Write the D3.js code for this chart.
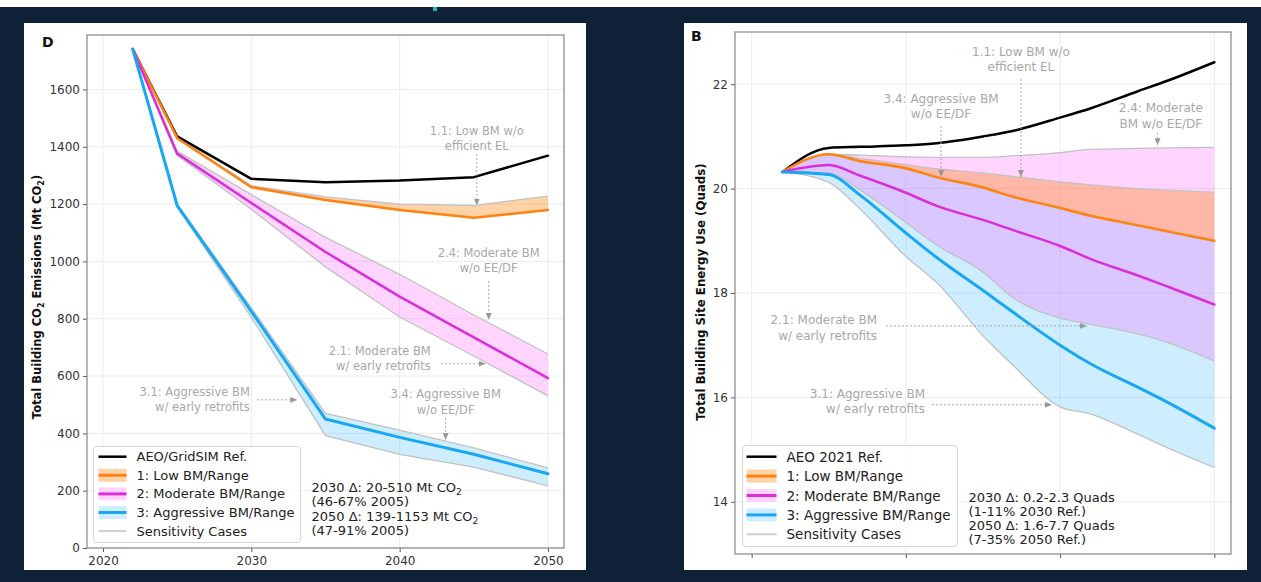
<!DOCTYPE html>
<html>
<head>
<meta charset="utf-8">
<script src="https://cdn.jsdelivr.net/npm/d3@7"></script>
<style>
  html, body { margin: 0; padding: 0; background: #0f2137; }
  svg { display: block; font-family: "DejaVu Sans", sans-serif; }
</style>
</head>
<body>
<svg id="chart" width="1261" height="582"></svg>
<script>
// ---------- data ----------
const xTicks = [2020, 2030, 2040, 2050];

// Panel D: total building CO2 emissions (Mt CO2)
const yearsD  = [2022, 2025, 2030, 2035, 2040, 2045, 2050];
const refD    = [1741, 1436, 1288, 1276, 1282, 1294, 1369];
const lowD    = [1741, 1430, 1259, 1214, 1179, 1152, 1179];
const lowHiD  = [1741, 1433, 1264, 1225, 1200, 1195, 1228];
const modD    = [1741, 1376, 1204, 1033,  877,  735,  593];
const modHiD  = [1741, 1385, 1233, 1084,  955,  813,  677];
const modLoD  = [1741, 1370, 1182,  981,  806,  670,  531];
const aggD    = [1741, 1195,  826,  450,  386,  327,  259];
const aggHiD  = [1741, 1200,  838,  470,  411,  349,  280];
const aggLoD  = [1741, 1190,  805,  392,  327,  282,  217];
const yTicksD = [0, 200, 400, 600, 800, 1000, 1200, 1400, 1600];

// Panel B: total building site energy use (quads)
const yearsB  = [2022, 2025, 2027, 2030, 2032, 2035, 2037, 2040, 2042, 2045, 2047, 2050];
const refB    = [20.32, 20.78, 20.80, 20.83, 20.87, 21.00, 21.11, 21.36, 21.54, 21.86, 22.07, 22.42];
const lowB    = [20.32, 20.66, 20.53, 20.39, 20.22, 20.02, 19.84, 19.63, 19.48, 19.30, 19.18, 19.00];
const lowHiB  = [20.32, 20.66, 20.58, 20.46, 20.38, 20.30, 20.23, 20.13, 20.07, 20.00, 19.97, 19.93];
const modB    = [20.32, 20.45, 20.25, 19.92, 19.67, 19.40, 19.20, 18.90, 18.65, 18.34, 18.12, 17.78];
const modHiB  = [20.32, 20.66, 20.64, 20.61, 20.60, 20.60, 20.63, 20.69, 20.75, 20.77, 20.78, 20.79];
const modLoB  = [20.32, 20.30, 19.98, 19.35, 18.92, 18.40, 17.90, 17.52, 17.40, 17.22, 17.05, 16.70];
const aggB    = [20.32, 20.27, 19.88, 19.15, 18.68, 18.05, 17.62, 17.00, 16.64, 16.20, 15.90, 15.41];
const aggHiB  = [20.32, 20.64, 20.51, 20.37, 20.20, 20.00, 19.82, 19.61, 19.46, 19.28, 19.16, 18.98];
const aggLoB  = [20.32, 20.12, 19.62, 18.70, 18.20, 17.18, 16.60, 15.82, 15.68, 15.30, 15.03, 14.66];
const yTicksB = [14, 16, 18, 20, 22];

const legendD = ["AEO/GridSIM Ref.", "1: Low BM/Range", "2: Moderate BM/Range", "3: Aggressive BM/Range", "Sensitivity Cases"];
const legendB = ["AEO 2021 Ref.", "1: Low BM/Range", "2: Moderate BM/Range", "3: Aggressive BM/Range", "Sensitivity Cases"];
const notesD  = ["2030 Δ: 20-510 Mt CO₂", "(46-67% 2005)", "2050 Δ: 139-1153 Mt CO₂", "(47-91% 2005)"];
const notesB  = ["2030 Δ: 0.2-2.3 Quads", "(1-11% 2030 Ref.)", "2050 Δ: 1.6-7.7 Quads", "(7-35% 2050 Ref.)"];

// ---------- styles ----------
const C = {
  ref: "#000000", low: "#ff8210", mod: "#d92ed9", agg: "#1aa7f2",
  lowFill: "#ff8c1a", modFill: "#ff66ff", aggFill: "#33b5ff",
  lowOp: 0.38, modOp: 0.28, aggOp: 0.24,
  edge: "#c2c2c2", grid: "#ececec", frame: "#8f8f8f",
  annot: "#a8a8a8", text: "#333333"
};

const svg = d3.select("#chart");
svg.append("rect").attr("width", 1261).attr("height", 582).attr("fill", "#0f2137");
svg.append("rect").attr("width", 1261).attr("height", 7).attr("fill", "#ffffff");
svg.append("rect").attr("x", 433).attr("y", 7).attr("width", 4).attr("height", 4).attr("fill", "#1fb5c4");

// cards
svg.append("rect").attr("x", 24).attr("y", 23).attr("width", 562).attr("height", 547).attr("fill", "#ffffff");
svg.append("rect").attr("x", 684).attr("y", 23).attr("width", 563).attr("height", 547).attr("fill", "#ffffff");

const defs = svg.append("defs");
defs.append("marker").attr("id", "head")
  .attr("markerUnits", "userSpaceOnUse")
  .attr("markerWidth", 7).attr("markerHeight", 6)
  .attr("refX", 7).attr("refY", 3).attr("orient", "auto")
  .append("path").attr("d", "M0,0 L7,3 L0,6 Z").attr("fill", "#999999");

// text with CO₂-style subscripts
function richText(sel, str) {
  const parts = str.split("₂");
  parts.forEach((p, i) => {
    if (p) sel.append("tspan").text(p);
    if (i < parts.length - 1)
      sel.append("tspan").attr("baseline-shift", "sub").attr("font-size", "70%").text("2");
  });
}

function panel(cfg) {
  const x = d3.scaleLinear().domain(cfg.xDomain).range([cfg.left, cfg.right]);
  const y = d3.scaleLinear().domain(cfg.yDomain).range([cfg.bottom, cfg.top]);
  const g = svg.append("g");

  // grid
  g.append("g").selectAll("line").data(cfg.yTicks).join("line")
    .attr("x1", cfg.left).attr("x2", cfg.right)
    .attr("y1", d => y(d)).attr("y2", d => y(d))
    .attr("stroke", C.grid).attr("stroke-width", 1);
  g.append("g").selectAll("line").data(xTicks).join("line")
    .attr("y1", cfg.top).attr("y2", cfg.bottom)
    .attr("x1", d => x(d)).attr("x2", d => x(d))
    .attr("stroke", C.grid).attr("stroke-width", 1);

  const clipId = "clip-" + cfg.id;
  defs.append("clipPath").attr("id", clipId).append("rect")
    .attr("x", cfg.left).attr("y", cfg.top)
    .attr("width", cfg.right - cfg.left).attr("height", cfg.bottom - cfg.top);
  const plot = g.append("g").attr("clip-path", `url(#${clipId})`);

  const rows = (hi, lo) => cfg.years.map((yr, i) => ({ yr, hi: hi[i], lo: lo[i] }));
  const area = d3.area().x(d => x(d.yr)).y0(d => y(d.lo)).y1(d => y(d.hi)).curve(cfg.curve);
  const line = d3.line().x((d, i) => x(cfg.years[i])).y(d => y(d)).curve(cfg.curve);

  cfg.bands.forEach(b => plot.append("path")
    .attr("d", area(rows(b.hi, b.lo)))
    .attr("fill", b.fill).attr("fill-opacity", b.opacity));

  cfg.edges.forEach(e => plot.append("path")
    .attr("d", line(e)).attr("fill", "none")
    .attr("stroke", C.edge).attr("stroke-width", 1.3));

  cfg.lines.forEach(l => plot.append("path")
    .attr("d", line(l.values)).attr("fill", "none")
    .attr("stroke", l.color).attr("stroke-width", l.width)
    .attr("stroke-linejoin", "round").attr("stroke-linecap", "round"));

  // annotations
  cfg.annotations.forEach(a => {
    const t = g.append("text")
      .attr("x", x(a.at[0])).attr("y", y(a.at[1]))
      .attr("text-anchor", a.anchor).attr("dominant-baseline", "central")
      .attr("font-size", cfg.annotSize).attr("fill", C.annot);
    a.lines.forEach((ln, i) => t.append("tspan")
      .attr("x", x(a.at[0])).attr("dy", i === 0 ? 0 : cfg.annotStep).text(ln));
    g.append("line")
      .attr("x1", x(a.from[0])).attr("y1", y(a.from[1]))
      .attr("x2", x(a.to[0])).attr("y2", y(a.to[1]))
      .attr("stroke", "#a9a9a9").attr("stroke-width", 1)
      .attr("stroke-dasharray", "2,2").attr("marker-end", "url(#head)");
  });

  // axes
  const yAxis = g.append("g").attr("transform", `translate(${cfg.left},0)`)
    .call(d3.axisLeft(y).tickValues(cfg.yTicks).tickSize(4).tickPadding(3).tickFormat(d3.format("d")));
  yAxis.select(".domain").remove();
  yAxis.attr("font-family", "DejaVu Sans").attr("font-size", 12);
  yAxis.selectAll("line").attr("stroke", "#555");
  yAxis.selectAll("text").attr("fill", C.text);

  const xAxis = g.append("g").attr("transform", `translate(0,${cfg.bottom})`)
    .call(d3.axisBottom(x).tickValues(xTicks).tickSize(4).tickPadding(4)
      .tickFormat(cfg.xLabels ? d3.format("d") : () => ""));
  xAxis.select(".domain").remove();
  xAxis.attr("font-family", "DejaVu Sans").attr("font-size", 12);
  xAxis.selectAll("line").attr("stroke", "#555");
  xAxis.selectAll("text").attr("fill", C.text);

  // frame
  g.append("rect")
    .attr("x", cfg.left).attr("y", cfg.top)
    .attr("width", cfg.right - cfg.left).attr("height", cfg.bottom - cfg.top)
    .attr("fill", "none").attr("stroke", C.frame).attr("stroke-width", 1.3);

  // y title
  const yt = g.append("text")
    .attr("transform", `translate(${cfg.yTitleX},${cfg.yTitleY}) rotate(-90)`)
    .attr("text-anchor", "middle").attr("dominant-baseline", "central")
    .attr("font-size", cfg.yTitleSize).attr("font-weight", "bold").attr("fill", "#111");
  richText(yt, cfg.yTitle);

  // panel letter
  g.append("text").attr("x", cfg.letterX).attr("y", cfg.letterY)
    .attr("font-size", 14).attr("font-weight", "bold").attr("fill", "#111").text(cfg.letter);

  // legend
  const L = cfg.legend;
  const lg = g.append("g");
  lg.append("rect").attr("x", L.x0).attr("y", L.y0)
    .attr("width", L.x1 - L.x0).attr("height", L.y1 - L.y0).attr("rx", 3)
    .attr("fill", "#ffffff").attr("fill-opacity", 0.85)
    .attr("stroke", "#d6d6d6").attr("stroke-width", 1);
  const swatches = [
    { color: C.ref, width: 2.5 },
    { color: C.low, width: 3, fill: C.lowFill, op: C.lowOp },
    { color: C.mod, width: 3, fill: C.modFill, op: C.modOp },
    { color: C.agg, width: 3, fill: C.aggFill, op: C.aggOp },
    { color: "#cfcfcf", width: 2 }
  ];
  cfg.legendLabels.forEach((lab, i) => {
    const cy = L.first + i * L.step, s = swatches[i];
    if (s.fill) lg.append("rect").attr("x", L.h0).attr("y", cy - 6.5)
      .attr("width", L.h1 - L.h0).attr("height", 13)
      .attr("fill", s.fill).attr("fill-opacity", s.op);
    lg.append("line").attr("x1", L.h0).attr("x2", L.h1).attr("y1", cy).attr("y2", cy)
      .attr("stroke", s.color).attr("stroke-width", s.width);
    lg.append("text").attr("x", L.tx).attr("y", cy).attr("dominant-baseline", "central")
      .attr("font-size", L.size).attr("fill", "#222").text(lab);
  });

  // summary notes
  cfg.notes.forEach((n, i) => {
    const t = g.append("text").attr("x", cfg.noteX).attr("y", cfg.noteY + i * cfg.noteStep)
      .attr("dominant-baseline", "central").attr("font-size", cfg.noteSize).attr("fill", "#222");
    richText(t, n);
  });
}

// ---------- panel D ----------
panel({
  id: "D", letter: "D", letterX: 42, letterY: 47,
  left: 87, right: 564, top: 35, bottom: 548,
  xDomain: [2018.92, 2051.08], yDomain: [0, 1790],
  years: yearsD, yTicks: yTicksD, xLabels: true, curve: d3.curveLinear,
  bands: [
    { hi: aggHiD, lo: aggLoD, fill: C.aggFill, opacity: C.aggOp },
    { hi: modHiD, lo: modLoD, fill: C.modFill, opacity: C.modOp },
    { hi: lowHiD, lo: lowD, fill: C.lowFill, opacity: C.lowOp }
  ],
  edges: [lowHiD, modHiD, modLoD, aggHiD, aggLoD],
  lines: [
    { values: refD, color: C.ref, width: 2.5 },
    { values: lowD, color: C.low, width: 2.5 },
    { values: modD, color: C.mod, width: 2.5 },
    { values: aggD, color: C.agg, width: 3 }
  ],
  annotSize: 11.5, annotStep: 15.4,
  annotations: [
    { lines: ["1.1: Low BM w/o", "efficient EL"], at: [2045.2, 1455], anchor: "middle", from: [2045.2, 1375], to: [2045.2, 1195] },
    { lines: ["2.4: Moderate BM", "w/o EE/DF"], at: [2046.0, 1031], anchor: "middle", from: [2046.0, 932], to: [2046.0, 796] },
    { lines: ["2.1: Moderate BM", "w/ early retrofits"], at: [2042.1, 688], anchor: "end", from: [2042.8, 643], to: [2045.8, 643] },
    { lines: ["3.1: Aggressive BM", "w/ early retrofits"], at: [2029.9, 546], anchor: "end", from: [2030.4, 517], to: [2033.1, 517] },
    { lines: ["3.4: Aggressive BM", "w/o EE/DF"], at: [2043.1, 537], anchor: "middle", from: [2043.1, 454], to: [2043.1, 377] }
  ],
  yTitle: "Total Building CO₂ Emissions (Mt CO₂)", yTitleX: 37, yTitleY: 297, yTitleSize: 11.5,
  legendLabels: legendD,
  legend: { x0: 93.5, x1: 300.5, y0: 446.5, y1: 542.5, first: 456.7, step: 18.6, h0: 98.5, h1: 126.5, tx: 136.5, size: 13 },
  notes: notesD, noteX: 311.5, noteY: 486.7, noteStep: 14.5, noteSize: 13
});

// ---------- panel B ----------
panel({
  id: "B", letter: "B", letterX: 691, letterY: 40.5,
  left: 735, right: 1231, top: 32, bottom: 554,
  xDomain: [2018.92, 2051.08], yDomain: [13, 23],
  years: yearsB, yTicks: yTicksB, xLabels: false, curve: d3.curveMonotoneX,
  bands: [
    { hi: aggHiB, lo: aggLoB, fill: C.aggFill, opacity: C.aggOp },
    { hi: modHiB, lo: modLoB, fill: C.modFill, opacity: C.modOp },
    { hi: lowHiB, lo: lowB, fill: C.lowFill, opacity: C.lowOp }
  ],
  edges: [lowHiB, modHiB, modLoB, aggHiB, aggLoB],
  lines: [
    { values: refB, color: C.ref, width: 2.5 },
    { values: lowB, color: C.low, width: 2.5 },
    { values: modB, color: C.mod, width: 2.5 },
    { values: aggB, color: C.agg, width: 3 }
  ],
  annotSize: 12, annotStep: 15.5,
  annotations: [
    { lines: ["1.1: Low BM w/o", "efficient EL"], at: [2037.46, 22.62], anchor: "middle", from: [2037.46, 22.10], to: [2037.46, 20.22] },
    { lines: ["3.4: Aggressive BM", "w/o EE/DF"], at: [2032.28, 21.72], anchor: "middle", from: [2032.28, 21.20], to: [2032.28, 20.22] },
    { lines: ["2.4: Moderate", "BM w/o EE/DF"], at: [2046.53, 21.54], anchor: "middle", from: [2046.32, 21.07], to: [2046.32, 20.83] },
    { lines: ["2.1: Moderate BM", "w/ early retrofits"], at: [2028.13, 17.48], anchor: "end", from: [2028.71, 17.37], to: [2041.74, 17.37] },
    { lines: ["3.1: Aggressive BM", "w/ early retrofits"], at: [2031.24, 16.07], anchor: "end", from: [2031.69, 15.86], to: [2039.47, 15.86] }
  ],
  yTitle: "Total Building Site Energy Use (Quads)", yTitleX: 701, yTitleY: 292, yTitleSize: 11.8,
  legendLabels: legendB,
  legend: { x0: 742.5, x1: 957.5, y0: 445.5, y1: 546.5, first: 456.7, step: 19.4, h0: 746.5, h1: 776.5, tx: 786.5, size: 13.5 },
  notes: notesB, noteX: 968.5, noteY: 496.7, noteStep: 14, noteSize: 13
});
</script>
</body>
</html>
